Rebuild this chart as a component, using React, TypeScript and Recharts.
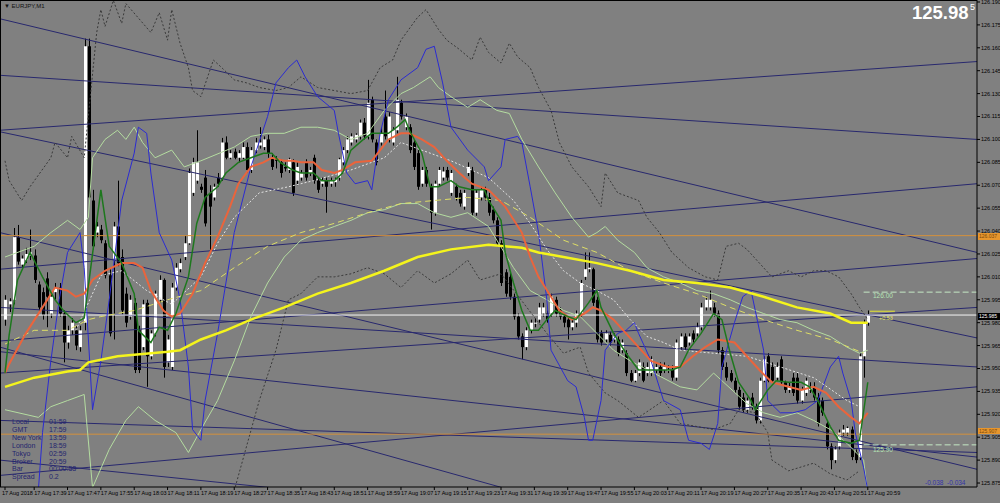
import { Bar, ComposedChart, Line, ReferenceLine, XAxis, YAxis } from "recharts";

const WIDTH = 1000;
const HEIGHT = 503;
const AXIS_W = 23;
const AXIS_H = 16;
const BG = "#808080";
const FONT = "'Liberation Sans', Arial, sans-serif";

const X_MIN = -1.2;
const X_MAX = 233.2;
const Y_MIN = 125.8724;
const Y_MAX = 126.1913;

// EURJPY M1 candles, 17:32 .. 20:59
const opens = [125.982,125.992,125.995,126.036,126.018,126.021,126.024,126.024,126.005,126.000,
126.009,125.986,126.000,126.003,125.986,125.967,125.975,125.975,125.964,125.980,
126.161,126.060,126.039,126.041,126.032,126.011,126.021,126.043,126.023,125.999,
125.984,125.993,125.975,125.964,125.993,125.958,125.973,125.995,126.008,125.954,
125.951,126.003,126.015,126.023,126.032,126.065,126.073,126.069,126.075,126.065,
126.062,126.075,126.075,126.098,126.088,126.092,126.088,126.088,126.095,126.080,
126.093,126.096,126.095,126.100,126.088,126.087,126.085,126.082,126.080,126.085,
126.073,126.075,126.085,126.078,126.088,126.073,126.071,126.073,126.071,126.072,
126.075,126.085,126.093,126.098,126.100,126.102,126.111,126.102,126.126,126.098,
126.098,126.115,126.100,126.098,126.106,126.124,126.108,126.108,126.098,126.091,
126.071,126.080,126.069,126.052,126.071,126.075,126.080,126.065,126.069,126.065,
126.056,126.078,126.080,126.052,126.062,126.067,126.062,126.054,126.047,126.032,
126.013,126.010,125.997,125.984,125.971,125.964,125.975,125.980,125.982,125.986,
125.986,125.986,125.995,125.988,125.984,125.982,125.977,125.980,125.986,126.010,
126.015,126.015,125.995,125.973,125.969,125.972,125.969,125.969,125.962,125.960,
125.947,125.942,125.947,125.951,125.947,125.947,125.949,125.951,125.949,125.949,
125.949,125.944,125.964,125.971,125.967,125.973,125.973,125.977,125.990,125.990,
125.990,125.986,125.962,125.951,125.947,125.942,125.936,125.931,125.923,125.931,
125.925,125.916,125.942,125.958,125.951,125.944,125.956,125.941,125.936,125.944,
125.944,125.929,125.934,125.936,125.938,125.931,125.929,125.914,125.899,125.890,
125.899,125.908,125.908,125.910,125.895,125.892,125.958,125.980];

const highs = [125.998,125.996,126.042,126.044,126.024,126.029,126.041,126.028,126.007,126.003,
126.013,126.000,126.006,126.006,125.988,125.978,125.983,125.978,125.978,126.166,
126.166,126.067,126.046,126.044,126.034,126.015,126.046,126.073,126.028,126.003,
125.998,125.996,125.978,125.995,125.995,125.975,126.001,126.011,126.009,125.972,
126.006,126.019,126.022,126.037,126.081,126.088,126.106,126.071,126.080,126.070,
126.071,126.078,126.101,126.102,126.093,126.094,126.093,126.098,126.098,126.095,
126.101,126.108,126.102,126.103,126.091,126.089,126.087,126.085,126.088,126.087,
126.085,126.080,126.087,126.082,126.090,126.075,126.075,126.075,126.075,126.075,
126.088,126.095,126.102,126.104,126.104,126.113,126.114,126.139,126.128,126.100,
126.108,126.132,126.118,126.108,126.141,126.126,126.117,126.110,126.100,126.093,
126.082,126.082,126.071,126.073,126.082,126.082,126.082,126.080,126.071,126.067,
126.067,126.085,126.082,126.067,126.069,126.069,126.065,126.056,126.049,126.034,
126.015,126.013,125.999,125.986,125.973,125.977,125.982,125.983,125.993,125.993,
125.988,125.999,125.997,125.990,125.986,125.984,125.982,125.988,126.008,126.026,
126.026,126.016,125.997,125.975,125.975,125.974,125.973,125.971,125.969,125.962,
125.949,125.949,125.956,125.954,125.954,125.958,125.954,125.954,125.954,125.952,
125.952,125.969,125.973,125.973,125.973,125.975,125.980,125.993,125.997,126.001,
125.993,125.988,125.964,125.954,125.949,125.944,125.938,125.934,125.931,125.934,
125.927,125.944,125.958,125.960,125.954,125.954,125.958,125.942,125.941,125.947,
125.947,125.938,125.944,125.941,125.941,125.934,125.931,125.916,125.901,125.899,
125.910,125.913,125.912,125.912,125.897,125.960,125.982,125.988];

const lows = [125.978,125.987,125.992,126.018,126.015,126.019,126.021,126.006,125.987,125.982,
125.977,125.983,125.995,125.984,125.954,125.963,125.972,125.962,125.961,125.975,
126.060,126.028,126.036,126.032,126.009,125.971,125.969,126.017,125.985,125.977,
125.982,125.947,125.947,125.962,125.938,125.956,125.971,125.993,125.944,125.951,
125.949,126.001,126.013,126.021,126.031,126.063,126.071,126.065,126.043,126.026,
126.060,126.069,126.073,126.087,126.087,126.087,126.085,126.087,126.078,126.078,
126.091,126.094,126.093,126.088,126.080,126.081,126.075,126.079,126.078,126.063,
126.070,126.073,126.073,126.076,126.071,126.065,126.069,126.052,126.069,126.069,
126.073,126.083,126.091,126.096,126.098,126.100,126.100,126.100,126.098,126.083,
126.096,126.100,126.098,126.096,126.104,126.113,126.106,126.091,126.080,126.067,
126.069,126.069,126.041,126.050,126.069,126.073,126.073,126.063,126.060,126.056,
126.054,126.076,126.050,126.050,126.060,126.060,126.050,126.045,126.030,126.004,
125.997,125.995,125.982,125.969,125.956,125.962,125.973,125.977,125.980,125.984,
125.980,125.984,125.984,125.982,125.977,125.969,125.975,125.977,125.984,126.008,
126.013,125.991,125.967,125.965,125.967,125.965,125.967,125.958,125.960,125.945,
125.941,125.941,125.945,125.941,125.945,125.945,125.947,125.945,125.947,125.947,
125.942,125.942,125.962,125.962,125.965,125.967,125.971,125.975,125.988,125.988,
125.984,125.960,125.949,125.942,125.941,125.934,125.923,125.921,125.921,125.923,
125.914,125.914,125.941,125.941,125.941,125.942,125.939,125.934,125.934,125.932,
125.927,125.927,125.932,125.934,125.929,125.912,125.919,125.897,125.884,125.888,
125.897,125.906,125.906,125.890,125.888,125.890,125.944,125.978];

const closes = [125.995,125.994,126.036,126.020,126.022,126.025,126.026,126.008,125.990,125.985,
125.997,125.997,126.003,125.986,125.967,125.975,125.980,125.965,125.975,126.161,
126.062,126.030,126.043,126.034,126.011,125.973,126.043,126.019,125.988,125.980,
125.995,125.949,125.949,125.992,125.958,125.973,125.999,126.008,125.951,125.969,
126.003,126.016,126.019,126.032,126.078,126.085,126.085,126.067,126.045,126.056,
126.069,126.071,126.098,126.088,126.091,126.088,126.091,126.095,126.080,126.093,
126.098,126.098,126.100,126.091,126.082,126.086,126.078,126.081,126.087,126.065,
126.082,126.078,126.075,126.080,126.073,126.067,126.073,126.069,126.073,126.074,
126.087,126.093,126.100,126.102,126.103,126.111,126.102,126.124,126.100,126.085,
126.104,126.102,126.115,126.106,126.126,126.115,126.115,126.093,126.082,126.069,
126.080,126.071,126.052,126.071,126.080,126.079,126.075,126.078,126.062,126.058,
126.065,126.082,126.052,126.065,126.067,126.062,126.052,126.047,126.032,126.006,
125.999,125.997,125.984,125.971,125.964,125.975,125.980,125.980,125.990,125.990,
125.982,125.997,125.986,125.984,125.980,125.977,125.980,125.986,126.006,126.015,
126.016,125.993,125.969,125.967,125.973,125.967,125.971,125.960,125.967,125.947,
125.942,125.947,125.954,125.942,125.951,125.956,125.951,125.947,125.951,125.949,
125.944,125.967,125.971,125.964,125.971,125.969,125.977,125.990,125.995,125.995,
125.986,125.962,125.951,125.944,125.942,125.936,125.925,125.923,125.929,125.925,
125.916,125.942,125.956,125.942,125.942,125.951,125.941,125.936,125.938,125.934,
125.929,125.936,125.942,125.938,125.931,125.914,125.921,125.899,125.890,125.897,
125.908,125.910,125.911,125.892,125.890,125.958,125.980,125.985];

// indicator readings: bar index + value
const fastMaAt = [0,1,3,6,9,12,14,17,19,23,25,28,31,32,35,37,39,41,44,46,48,51,53,56,59,62,64,66,69,71,74,76,79,81,83,86,88,90,92,94,96,97,100,102,104,107,109,112,115,116,119,120,122,124,126,128,130,132,135,137,140,142,143,146,149,152,155,160,162,164,167,170,172,174,176,179,180,183,185,188,191,193,195,198,200,203,205,207];
const fastMa = [125.947,125.972,126.008,126.026,126.010,125.995,125.988,125.980,125.983,126.067,
126.030,126.019,125.999,125.975,125.967,125.977,125.975,125.986,126.010,126.045,
126.062,126.069,126.078,126.085,126.088,126.091,126.091,126.085,126.080,126.078,
126.078,126.073,126.073,126.078,126.093,126.100,126.104,126.104,126.104,126.108,
126.113,126.106,126.091,126.069,126.069,126.073,126.069,126.067,126.067,126.060,
126.047,126.026,126.006,125.988,125.975,125.975,125.982,125.988,125.984,125.982,
125.993,126.001,125.990,125.973,125.960,125.949,125.949,125.949,125.951,125.962,
125.973,125.986,125.982,125.960,125.941,125.929,125.923,125.936,125.942,125.941,
125.941,125.938,125.929,125.912,125.903,125.901,125.903,125.941];

const midMaAt = [0,1,5,9,12,15,17,19,21,24,28,31,33,35,38,40,42,45,48,51,54,56,59,62,64,67,69,71,74,76,79,81,84,88,90,92,95,97,100,103,106,109,112,116,120,124,126,128,131,133,136,139,141,143,146,149,152,155,159,162,165,168,171,175,178,181,184,188,191,194,197,200,203,205,207];
const midMa = [125.947,125.953,125.973,125.990,126.003,126.001,125.997,125.999,126.008,126.014,
126.019,126.019,126.016,126.001,125.988,125.984,125.986,125.999,126.019,126.036,
126.056,126.071,126.082,126.085,126.088,126.086,126.086,126.085,126.085,126.080,
126.078,126.080,126.085,126.086,126.093,126.100,126.104,126.104,126.100,126.095,
126.086,126.078,126.071,126.067,126.056,126.039,126.023,126.010,125.997,125.988,
125.982,125.986,125.990,125.988,125.982,125.973,125.964,125.955,125.951,125.951,
125.958,125.964,125.969,125.967,125.958,125.949,125.941,125.938,125.936,125.938,
125.934,125.925,125.918,125.914,125.921];

const slowMaAt = [0,7,15,18,20,27,31,39,42,47,53,59,67,75,83,91,99,107,116,124,128,134,142,150,158,166,174,182,190,198,203,207];
const slowMa = [125.938,125.944,125.948,125.949,125.954,125.958,125.959,125.961,125.962,125.969,
125.975,125.982,125.990,125.999,126.006,126.014,126.023,126.028,126.031,126.029,
126.026,126.023,126.019,126.014,126.008,126.006,126.003,125.997,125.990,125.986,
125.980,125.980];

const trendMaAt = [0,7,15,20,23,31,39,47,55,63,71,79,87,95,103,111,119,126,134,142,150,158,166,174,182,190,198,206];
const trendMa = [125.966,125.975,125.975,125.982,125.984,125.988,125.995,126.001,126.016,126.030,
126.039,126.045,126.052,126.058,126.060,126.062,126.060,126.049,126.034,126.026,
126.014,126.006,125.999,125.990,125.982,125.975,125.969,125.960];

const signalAt = [17,23,28,34,40,47,51,55,61,68,74,83,91,95,98,107,116,122,126,130,134,138,142,146,150,154,158,162,170,178,186,194,202,205];
const signal = [125.975,126.011,126.014,126.001,125.992,126.010,126.032,126.049,126.065,126.069,
126.073,126.080,126.088,126.098,126.095,126.086,126.075,126.060,126.045,126.028,
126.014,126.006,126.001,125.995,125.982,125.971,125.967,125.962,125.960,125.958,
125.951,125.944,125.929,125.925];

const bandUpAt = [0,7,11,15,18,20,21,24,27,29,31,33,36,40,43,47,55,59,63,67,71,75,79,83,87,91,95,98,102,104,107,111,114,118,121,124,128,132,136,140,142,144,147,151,154,158,162,166,170,174,178,182,186,190,194,198,202,205,207];
const bandUp = [126.023,126.030,126.039,126.047,126.041,126.049,126.088,126.100,126.106,126.100,
126.108,126.098,126.088,126.093,126.082,126.086,126.095,126.102,126.104,126.104,
126.108,126.108,126.106,126.100,126.104,126.119,126.130,126.134,126.141,126.134,
126.128,126.121,126.126,126.119,126.117,126.100,126.082,126.065,126.049,126.036,
126.039,126.043,126.034,126.026,126.016,126.010,126.006,126.001,125.999,125.995,
125.990,125.986,125.982,125.980,125.975,125.971,125.964,125.960,125.962];

const bandLowAt = [0,8,11,15,19,21,25,29,32,36,41,44,47,51,55,59,63,67,71,75,79,83,87,91,95,99,103,107,111,116,122,126,130,134,138,142,146,150,162,166,170,178,182,186,190,194,198,202,206,207];
const bandLow = [125.923,125.918,125.925,125.929,125.933,125.872,125.897,125.916,125.925,125.916,
125.908,125.895,125.910,125.929,125.955,125.984,126.006,126.023,126.034,126.039,
126.043,126.047,126.052,126.054,126.058,126.058,126.052,126.049,126.052,126.043,
126.016,126.001,125.995,125.988,125.984,125.973,125.962,125.955,125.938,125.936,
125.947,125.927,125.921,125.918,125.921,125.916,125.910,125.901,125.890,125.867];

const swingAt = [8,9,11,13,15,18,19,21,23,25,28,31,32,34,35,37,40,42,44,45,47,48,51,55,59,63,65,68,70,72,75,79,80,82,84,87,88,90,92,95,99,101,103,105,107,111,115,116,119,120,123,124,126,128,130,131,135,137,139,140,141,143,144,147,149,151,152,155,158,162,164,167,169,171,172,175,177,179,180,182,183,186,189,192,195,198,200,201,203,204,206,207];
const swing = [125.870,125.908,125.955,125.995,126.026,126.039,126.016,125.923,125.955,125.995,
126.060,126.091,126.108,126.104,126.078,126.039,126.021,125.995,125.951,125.910,
125.903,125.929,125.973,126.039,126.082,126.115,126.137,126.147,126.152,126.141,
126.128,126.119,126.104,126.078,126.071,126.073,126.067,126.104,126.126,126.139,
126.147,126.159,126.161,126.137,126.108,126.093,126.082,126.073,126.082,126.100,
126.102,126.098,126.069,126.039,125.995,125.962,125.942,125.938,125.918,125.903,
125.903,125.929,125.962,125.973,125.975,125.980,125.973,125.955,125.929,125.923,
125.903,125.901,125.897,125.914,125.951,125.980,125.997,126.001,125.988,125.962,
125.929,125.921,125.921,125.923,125.929,125.951,125.958,125.947,125.929,125.908,
125.885,125.870];

const envUpAt = [0,1,4,6,11,12,15,16,19,22,23,24,26,28,29,35,37,39,40,42,44,45,47,50,52,55,58,61,65,68,71,75,79,83,87,90,93,95,99,101,104,106,109,112,114,116,119,121,123,126,128,131,133,136,140,143,144,147,152,154,157,160,164,168,171,173,176,178,181,184,188,191,194,197,200,203,205,207];
const envUp = [126.086,126.073,126.060,126.069,126.088,126.098,126.088,126.102,126.088,126.170,
126.185,126.174,126.191,126.176,126.189,126.170,126.183,126.165,126.185,126.163,
126.147,126.132,126.128,126.152,126.147,126.139,126.137,126.134,126.132,126.134,
126.141,126.134,126.132,126.130,126.132,126.147,126.152,126.165,126.180,126.185,
126.172,126.165,126.159,126.152,126.167,126.157,126.150,126.163,126.154,126.147,
126.134,126.119,126.098,126.082,126.069,126.056,126.078,126.065,126.060,126.049,
126.039,126.026,126.016,126.010,126.008,126.030,126.032,126.028,126.019,126.010,
126.014,126.010,126.014,126.014,126.010,125.999,125.990,125.982];

const envLowAt = [55,61,65,68,71,75,79,83,87,91,95,99,103,107,111,114,119,130,134,138,140,144,147,152,158,162,166,170,174,176,180,183,184,188,194,198,202,205];
const envLow = [125.870,125.929,125.962,125.995,125.999,126.010,126.010,126.012,126.016,126.012,
126.003,126.014,126.006,126.012,126.021,126.008,126.012,125.973,125.960,125.964,
125.947,125.934,125.929,125.918,125.929,125.914,125.912,125.910,125.914,125.923,
125.921,125.908,125.890,125.883,125.888,125.881,125.877,125.883];

// trend lines: price where each line meets the left and right edge of the plot
const trendLeft = [126.179,126.142,126.106,126.105,126.039,126.015,125.968,125.990,125.961,125.880,125.947,125.916,125.964,125.890];
const trendRight = [126.026,126.100,126.151,125.970,125.884,126.071,126.022,125.951,125.892,125.938,125.990,125.895,125.785,125.825];

const levelLines = [126.037, 125.907];
const bidPrice = 125.985;
const targetLevels = [126.0, 125.9];

const yTicks = [125.875,125.89,125.905,125.92,125.935,125.95,125.965,125.98,125.995,126.01,126.025,
126.04,126.055,126.07,126.085,126.1,126.115,126.13,126.145,126.16,126.175,126.19];

const xTickIdx = [0,7,15,23,31,39,47,55,63,71,79,87,95,103,111,119,127,135,143,151,159,167,175,183,191,199,207];
const xTickLabels = ["17 Aug 2018","17 Aug 17:39","17 Aug 17:47","17 Aug 17:55","17 Aug 18:03","17 Aug 18:11",
"17 Aug 18:19","17 Aug 18:27","17 Aug 18:35","17 Aug 18:43","17 Aug 18:51","17 Aug 18:59","17 Aug 19:07",
"17 Aug 19:15","17 Aug 19:23","17 Aug 19:31","17 Aug 19:39","17 Aug 19:47","17 Aug 19:55","17 Aug 20:03",
"17 Aug 20:11","17 Aug 20:19","17 Aug 20:27","17 Aug 20:35","17 Aug 20:43","17 Aug 20:51","17 Aug 20:59"];

const clockNames = ["Local","GMT","New York","London","Tokyo","Broker","Bar","Spread"];
const clockValues = ["01:59","17:59","13:59","18:59","02:59","20:59","00:00:53","0.2"];

type Row = { [key: string]: number };

const rows: Row[] = closes.map((close, i) => ({
  i,
  open: opens[i],
  high: highs[i],
  low: lows[i],
  close,
}));

function putSeries(key: string, at: number[], values: number[]) {
  at.forEach((idx, k) => {
    rows[idx][key] = values[k];
  });
}

putSeries("envUp", envUpAt, envUp);
putSeries("envLow", envLowAt, envLow);
putSeries("bandUp", bandUpAt, bandUp);
putSeries("bandLow", bandLowAt, bandLow);
putSeries("swing", swingAt, swing);
putSeries("trendMa", trendMaAt, trendMa);
putSeries("signal", signalAt, signal);
putSeries("slowMa", slowMaAt, slowMa);
putSeries("midMa", midMaAt, midMa);
putSeries("fastMa", fastMaAt, fastMa);

const SERIES = [
  { key: "envUp", color: "#3a3a3a", width: 1, dash: "2 2" },
  { key: "envLow", color: "#3a3a3a", width: 1, dash: "2 2" },
  { key: "bandUp", color: "#b4dca0", width: 1, dash: undefined },
  { key: "bandLow", color: "#b4dca0", width: 1, dash: undefined },
  { key: "swing", color: "#2b2bd2", width: 1, dash: undefined },
  { key: "trendMa", color: "#dede66", width: 1, dash: "6 4" },
  { key: "signal", color: "#e4e4e4", width: 1, dash: "2 2" },
  { key: "slowMa", color: "#f4f41c", width: 2.5, dash: undefined },
  { key: "midMa", color: "#ea643c", width: 2, dash: undefined },
  { key: "fastMa", color: "#1d781d", width: 1.5, dash: undefined },
];

const PLOT_W = WIDTH - AXIS_W;
const PLOT_H = HEIGHT - AXIS_H;
const priceToY = (p: number) => ((Y_MAX - p) / (Y_MAX - Y_MIN)) * PLOT_H;

function Candle(props: any) {
  const { x, y, width, height, payload } = props;
  if (!payload || payload.high == null) return null;
  const { open, close, high, low } = payload;
  const top = Math.min(y, y + height);
  const span = Math.abs(height);
  const ratio = high === low ? 0 : span / (high - low);
  const cx = Math.round(x + width / 2) + 0.5;
  const bodyTop = top + (high - Math.max(open, close)) * ratio;
  const bodyBottom = top + (high - Math.min(open, close)) * ratio;
  const up = close >= open;
  return (
    <g>
      <line x1={cx} x2={cx} y1={top} y2={top + span} stroke="#000" strokeWidth={1} />
      <rect
        x={cx - 1.5}
        y={bodyTop}
        width={3}
        height={Math.max(1, bodyBottom - bodyTop)}
        fill={up ? "#ffffff" : "#000000"}
      />
    </g>
  );
}

function TimeTick(props: any) {
  const { x, y, payload } = props;
  const k = xTickIdx.indexOf(payload.value);
  return (
    <text
      x={k === 0 ? x - 3 : x}
      y={y + 5}
      fontSize={5.5}
      fontFamily={FONT}
      fill="#000"
      textAnchor="start"
    >
      {xTickLabels[k]}
    </text>
  );
}

const small = (extra: React.CSSProperties): React.CSSProperties => ({
  position: "absolute",
  fontFamily: FONT,
  whiteSpace: "nowrap",
  lineHeight: 1,
  pointerEvents: "none",
  ...extra,
});

function AxisBox({
  price,
  bg,
  color,
  shift = 0,
}: {
  price: number;
  bg: string;
  color: string;
  shift?: number;
}) {
  return (
    <div
      style={small({
        left: PLOT_W + 1,
        top: priceToY(price) - 2.5 + shift,
        width: AXIS_W - 1,
        height: shift ? 5.5 : 7,
        background: bg,
        color,
        fontSize: 5,
        paddingLeft: 1,
        paddingTop: shift ? 0.5 : 1,
        boxSizing: "border-box",
        overflow: "hidden",
      })}
    >
      {price.toFixed(3)}
    </div>
  );
}

export default function App() {
  return (
    <div
      style={{
        position: "fixed",
        left: 0,
        top: 0,
        width: WIDTH,
        height: HEIGHT,
        background: BG,
        overflow: "hidden",
      }}
    >
      <ComposedChart
        width={WIDTH}
        height={HEIGHT}
        data={rows}
        margin={{ top: 0, right: 0, bottom: 0, left: 0 }}
      >
        <XAxis
          type="number"
          dataKey="i"
          domain={[X_MIN, X_MAX]}
          allowDataOverflow
          ticks={xTickIdx}
          interval={0}
          height={AXIS_H}
          tickSize={3}
          tickMargin={0}
          tick={<TimeTick />}
          stroke="#000"
        />
        <YAxis
          orientation="right"
          type="number"
          domain={[Y_MIN, Y_MAX]}
          allowDataOverflow
          ticks={yTicks}
          interval={0}
          width={AXIS_W}
          tickSize={3}
          tickMargin={1}
          tickFormatter={(v: number) => v.toFixed(3)}
          tick={{ fontSize: 5.5, fill: "#000", fontFamily: FONT }}
          stroke="#000"
        />

        {trendLeft.map((left, k) => (
          <ReferenceLine
            key={`trend-${k}`}
            segment={[
              { x: X_MIN, y: left },
              { x: X_MAX, y: trendRight[k] },
            ]}
            stroke="#28286e"
            strokeWidth={1}
            ifOverflow="hidden"
          />
        ))}
        {levelLines.map((p) => (
          <ReferenceLine key={`lvl-${p}`} y={p} stroke="#d4903c" strokeWidth={1} ifOverflow="hidden" />
        ))}
        <ReferenceLine y={bidPrice} stroke="#f4f4f4" strokeWidth={1} />
        {targetLevels.map((p) => (
          <ReferenceLine
            key={`tgt-${p}`}
            segment={[
              { x: 206, y: p },
              { x: X_MAX, y: p },
            ]}
            stroke="#c4e8c4"
            strokeDasharray="6 3"
            ifOverflow="hidden"
          />
        ))}
        <ReferenceLine
          segment={[
            { x: 207.5, y: 125.9875 },
            { x: 213.5, y: 125.9875 },
          ]}
          stroke="#e8e830"
          strokeWidth={1}
        />

        <Bar
          dataKey={(d: Row) => [d.low, d.high]}
          shape={<Candle />}
          barSize={3}
          isAnimationActive={false}
        />

        {SERIES.map((s) => (
          <Line
            key={s.key}
            dataKey={s.key}
            type="linear"
            stroke={s.color}
            strokeWidth={s.width}
            strokeDasharray={s.dash}
            dot={false}
            activeDot={false}
            connectNulls
            isAnimationActive={false}
          />
        ))}
      </ComposedChart>

      {/* plot frame top / left */}
      <div
        style={{
          position: "absolute",
          left: 0,
          top: 0,
          width: PLOT_W,
          height: PLOT_H,
          borderTop: "1px solid #000",
          borderLeft: "1px solid #000",
          boxSizing: "border-box",
          pointerEvents: "none",
        }}
      />

      <div style={small({ left: 4, top: 3, fontSize: 6, color: "#111" })}>▼ EURJPY,M1</div>

      <div style={small({ left: 912, top: 4, fontSize: 18.5, fontWeight: 700, color: "#fff" })}>
        125.98
      </div>
      <div style={small({ left: 970, top: 3, fontSize: 9, color: "#fff" })}>5</div>

      {clockNames.map((name, k) => (
        <div key={name}>
          <div style={small({ left: 12, top: 418 + k * 7.9, fontSize: 7, color: "#25256e" })}>{name}</div>
          <div style={small({ left: 49, top: 418 + k * 7.9, fontSize: 7, color: "#25256e" })}>
            {clockValues[k]}
          </div>
        </div>
      ))}

      <div style={small({ left: 925, top: 480, fontSize: 6.5, color: "#3434a8" })}>-0.038&nbsp;&nbsp;-0.034</div>

      <div style={small({ left: 873, top: priceToY(targetLevels[0]) + 1, fontSize: 6.5, color: "#b4e4b4" })}>
        126.00
      </div>
      <div style={small({ left: 873, top: priceToY(targetLevels[1]) + 2, fontSize: 6.5, color: "#b4e4b4" })}>
        125.90
      </div>
      <div style={small({ left: 879, top: priceToY(bidPrice) + 1, fontSize: 5.5, color: "#e8e860" })}>+0.53</div>

      <AxisBox price={levelLines[0]} bg="#e8962c" color="#7a4a10" />
      <AxisBox price={levelLines[1]} bg="#e8962c" color="#7a4a10" shift={-3.5} />
      <AxisBox price={bidPrice} bg="#000" color="#fff" />
    </div>
  );
}
